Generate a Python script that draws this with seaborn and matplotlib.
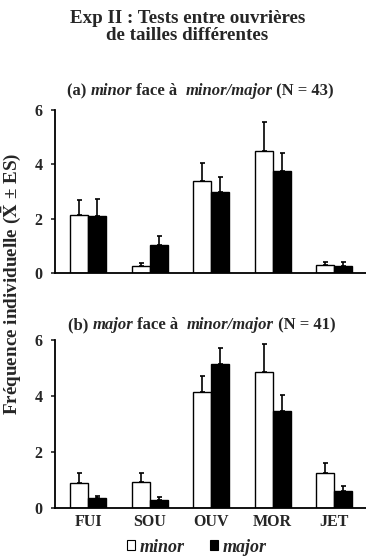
import numpy as np
import pandas as pd
import matplotlib
matplotlib.use("Agg")
import matplotlib.pyplot as plt
import seaborn as sns
from matplotlib.patches import Patch

categories = ["FUI", "SOU", "OUV", "MOR", "JET"]
castes = ["minor", "major"]
# panel (a): minor face à minor/major
a_minor = [2.15, 0.27, 3.40, 4.50, 0.30]
a_minor_es = [0.55, 0.10, 0.65, 1.05, 0.10]
a_major = [2.10, 1.02, 3.00, 3.75, 0.26]
a_major_es = [0.62, 0.35, 0.55, 0.67, 0.13]
# panel (b): major face à minor/major
b_minor = [0.91, 0.94, 4.13, 4.84, 1.26]
b_minor_es = [0.35, 0.32, 0.57, 1.01, 0.36]
b_major = [0.35, 0.29, 5.14, 3.48, 0.62]
b_major_es = [0.09, 0.10, 0.57, 0.54, 0.18]
yticks = [0, 2, 4, 6]

sns.set_style("white")
plt.rcParams['font.family'] = ['Liberation Serif', 'DejaVu Serif']
plt.rcParams['mathtext.fontset'] = 'stix'
plt.rcParams['font.weight'] = 'bold'

W, H = 366, 558
fig = plt.figure(figsize=(W / 100, H / 100), dpi=100)

def ax_rect(left_px, right_px, top_px, bottom_px):
    return [left_px / W, 1 - bottom_px / H, (right_px - left_px) / W, (bottom_px - top_px) / H]

ax_a = fig.add_axes(ax_rect(55, 366, 110, 273))
ax_b = fig.add_axes(ax_rect(55, 366, 340, 508))

def panel(ax, minor, minor_es, major, major_es, show_x):
    df = pd.DataFrame({
        "cat": categories * 2,
        "caste": ["minor"] * len(categories) + ["major"] * len(categories),
        "val": list(minor) + list(major),
    })
    sns.barplot(data=df, x="cat", y="val", hue="caste", order=categories,
                hue_order=castes, palette={"minor": "white", "major": "black"},
                edgecolor="black", linewidth=1.0, width=0.585, errorbar=None,
                ax=ax, legend=False)
    es_map = {"minor": minor_es, "major": major_es}
    for cont, caste in zip(ax.containers, castes):
        xs = [p.get_x() + p.get_width() / 2 for p in cont.patches]
        ys = [p.get_height() for p in cont.patches]
        es = es_map[caste]
        ax.errorbar(xs, ys, yerr=[np.zeros(len(es)), es], fmt="none",
                    ecolor="black", elinewidth=1.2, capsize=1.8, capthick=1.2)
    ax.set_ylim(0, 6)
    ax.set_xlim(-0.54, 4.52)
    ax.set_yticks(yticks)
    ax.set_yticklabels([str(t) for t in yticks], fontsize=11.5, fontweight="bold")
    ax.set_xlabel("")
    ax.set_ylabel("")
    for s in ["top", "right"]:
        ax.spines[s].set_visible(False)
    for s in ["left", "bottom"]:
        ax.spines[s].set_linewidth(1.3)
        ax.spines[s].set_color("black")
    ax.tick_params(axis="y", length=3, width=1.2, direction="out", pad=6, left=True)
    ax.tick_params(axis="x", length=0, pad=4)
    if show_x:
        ax.set_xticks(range(len(categories)))
        ax.set_xticklabels(categories, fontsize=11.5, fontweight="bold")
    else:
        ax.set_xticklabels([])

panel(ax_a, a_minor, a_minor_es, a_major, a_major_es, False)
panel(ax_b, b_minor, b_minor_es, b_major, b_major_es, True)

fig.text(187.5 / W, 1 - 27 / H, "Exp II : Tests entre ouvrières\nde tailles différentes",
         ha="center", va="center", fontsize=13.7, fontweight="bold", linespacing=1.05)

renderer = fig.canvas.get_renderer()

def rich(x_px, y_px, parts, size=12):
    x = x_px
    for txt, style in parts:
        t = fig.text(x / W, 1 - y_px / H, txt, ha="left", va="center",
                     fontsize=size, fontweight="bold", fontstyle=style)
        bb = t.get_window_extent(renderer=renderer)
        x += bb.width

rich(67, 91, [("(a) ", "normal"), ("minor", "italic"), (" face à  ", "normal"),
              ("minor/major", "italic"), (" (N = 43)", "normal")])
rich(68, 325, [("(b) ", "normal"), ("major", "italic"), (" face à  ", "normal"),
               ("minor/major", "italic"), (" (N = 41)", "normal")])

fig.text(11 / W, 1 - 284 / H, r"Fréquence individuelle ($\mathbf{\bar{X}}$ ± ES)",
         rotation=90, ha="center", va="center", fontsize=13.8, fontweight="bold")

handles = [Patch(facecolor="white", edgecolor="black", linewidth=0.8),
           Patch(facecolor="black", edgecolor="black", linewidth=0.8)]
fig.legend(handles, castes, loc="center", bbox_to_anchor=(197 / W, 1 - 547 / H),
           ncol=2, frameon=False, handlelength=0.45, handleheight=0.45,
           handletextpad=0.25, columnspacing=1.4, borderpad=0, borderaxespad=0,
           prop={"family": "Liberation Serif", "style": "italic", "weight": "bold", "size": 13})

fig.savefig("out.png", dpi=100)
